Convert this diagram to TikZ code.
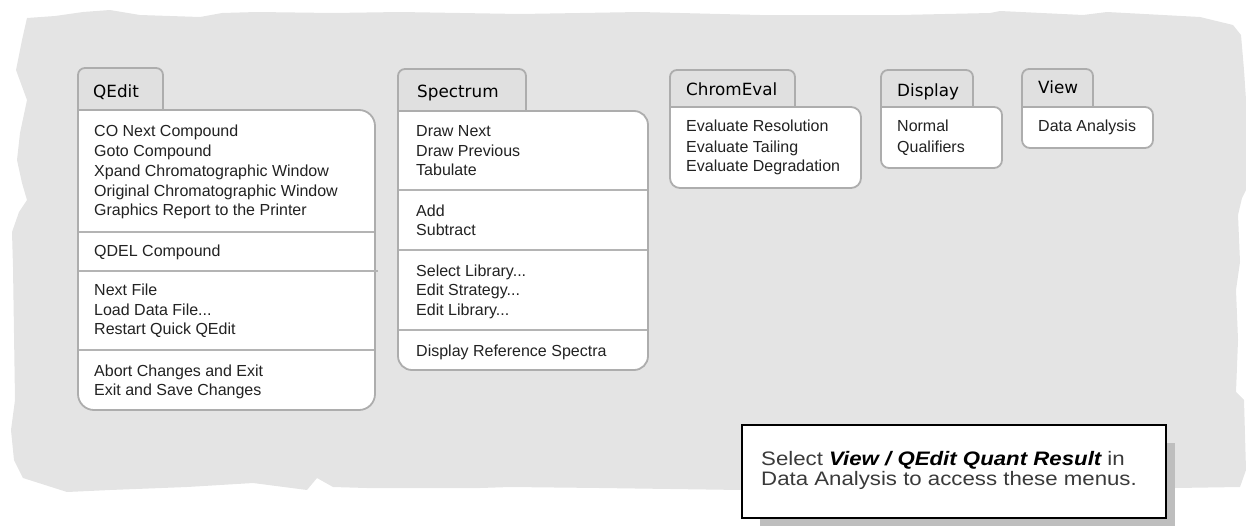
\documentclass[tikz,border=0pt]{standalone}
\usepackage{fontspec}
\newfontfamily\itemfont{Liberation Sans}
\newfontfamily\headfont{DejaVu Sans}
\newfontfamily\notefont[FakeStretch=1.14]{Liberation Sans}
\definecolor{bggray}{HTML}{E4E4E4}
\definecolor{tabgray}{HTML}{E0E0E0}
\definecolor{bordergray}{HTML}{ADADAD}
\definecolor{sepgray}{HTML}{B4B4B4}
\definecolor{itemtext}{HTML}{222222}
\definecolor{notetext}{HTML}{3A3A3A}
\definecolor{shadowgray}{HTML}{BEBEBE}
\tikzset{
  menuline/.style={draw=bordergray, line width=1.8pt},
  sepline/.style={draw=sepgray, line width=2pt},
  item/.style={anchor=base west, inner sep=0pt, text=itemtext, font=\itemfont\fontsize{16}{19}\selectfont},
  head/.style={anchor=base west, inner sep=0pt, text=black, font=\headfont\fontsize{16.8}{19}\selectfont},
  note/.style={anchor=base west, inner sep=0pt, text=notetext, font=\notefont\fontsize{19.5}{20}\selectfont},
}
\newcommand\drawmenu[7]{%
  \draw[menuline, fill=tabgray, rounded corners=7pt] (#1,#4) -- (#1,#2) -- (#3,#2) -- (#3,#4);
  \draw[menuline, fill=white, rounded corners=#7pt] (#1,#4) -- (#5,#4) -- (#5,#6) -- (#1,#6) -- (#1,#4);
}
\begin{document}
\begin{tikzpicture}[x=1pt, y=-1pt]
\useasboundingbox (0,0) rectangle (1246,525);
% torn paper background
\fill[bggray] (27,18) -- (55,16) -- (83,12) -- (110,10) -- (140,15) -- (200,17) -- (222,13) -- (257,12) -- (333,13) -- (400,12) -- (520,14) -- (640,12) -- (760,15) -- (900,15) -- (990,13) -- (1000,11) -- (1083,15) -- (1107,12) -- (1200,17) -- (1233,25) -- (1241,35) -- (1244,70) -- (1246,100) -- (1246,190) -- (1242,198) -- (1238,215) -- (1240,262) -- (1236,290) -- (1238,340) -- (1236,392) -- (1244,400) -- (1246,470) -- (1240,487) -- (1175,488) -- (900,489) -- (742,490) -- (600,488) -- (510,487) -- (480,488) -- (367,488) -- (333,487) -- (317,478) -- (307,490) -- (253,483) -- (187,487) -- (110,490) -- (67,492) -- (23,478) -- (14,460) -- (11,430) -- (15,400) -- (14,333) -- (13,267) -- (12,232) -- (19,212) -- (27,200) -- (22,183) -- (17,160) -- (20,133) -- (27,100) -- (16,70) -- (22,40) -- cycle;

% QEdit menu
\drawmenu{78}{68}{163}{110}{375}{410}{16}
\draw[sepline] (79,232) -- (374,232);
\draw[sepline] (79,271) -- (378,271);
\draw[sepline] (79,350) -- (374,350);
\node[head] (qedit) at (93,97) {QEdit};
\node[item] (q1) at (94,136) {CO Next Compound};
\node[item] (q2) at (94,156) {Goto Compound};
\node[item] (q3) at (94,176) {Xpand Chromatographic Window};
\node[item] (q4) at (94,196) {Original Chromatographic Window};
\node[item] (q5) at (94,215) {Graphics Report to the Printer};
\node[item] (q6) at (94,256) {QDEL Compound};
\node[item] (q7) at (94,295) {Next File};
\node[item] (q8) at (94,315) {Load Data File...};
\node[item] (q9) at (94,334) {Restart Quick QEdit};
\node[item] (q10) at (94,376) {Abort Changes and Exit};
\node[item] (q11) at (94,395) {Exit and Save Changes};

% Spectrum menu
\drawmenu{398}{69}{526}{111}{648}{370}{14}
\draw[sepline] (399,190) -- (647,190);
\draw[sepline] (399,250) -- (647,250);
\draw[sepline] (399,330) -- (647,330);
\node[head] (spectrum) at (417,97) {Spectrum};
\node[item] (s1) at (416,136) {Draw Next};
\node[item] (s2) at (416,156) {Draw Previous};
\node[item] (s3) at (416,175) {Tabulate};
\node[item] (s4) at (416,216) {Add};
\node[item] (s5) at (416,235) {Subtract};
\node[item] (s6) at (416,276) {Select Library...};
\node[item] (s7) at (416,295) {Edit Strategy...};
\node[item] (s8) at (416,315) {Edit Library...};
\node[item] (s9) at (416,356) {Display Reference Spectra};

% ChromEval menu
\drawmenu{670}{70}{795}{107}{861}{188}{10}
\node[head] (chromeval) at (686,95) {ChromEval};
\node[item] (c1) at (686,131) {Evaluate Resolution};
\node[item] (c2) at (686,152) {Evaluate Tailing};
\node[item] (c3) at (686,171) {Evaluate Degradation};

% Display menu
\drawmenu{881}{70}{973}{107}{1002}{168}{8}
\node[head] (display) at (897,96) {Display};
\node[item] (d1) at (897,131) {Normal};
\node[item] (d2) at (897,152) {Qualifiers};

% View menu
\drawmenu{1022}{69}{1093}{107}{1153}{148}{8}
\node[head] (view) at (1038,93) {View};
\node[item] (v1) at (1038,131) {Data Analysis};

% note box
\fill[shadowgray] (760,443) rectangle (1175,530);
\draw[fill=white, draw=black, line width=2pt] (742,425) rectangle (1166,518);
\node[note] (note1) at (761,465) {Select \textcolor{black}{\bfseries\itshape View / QEdit Quant Result} in};
\node[note] (note2) at (761,485) {Data Analysis to access these menus.};
\end{tikzpicture}
\end{document}
